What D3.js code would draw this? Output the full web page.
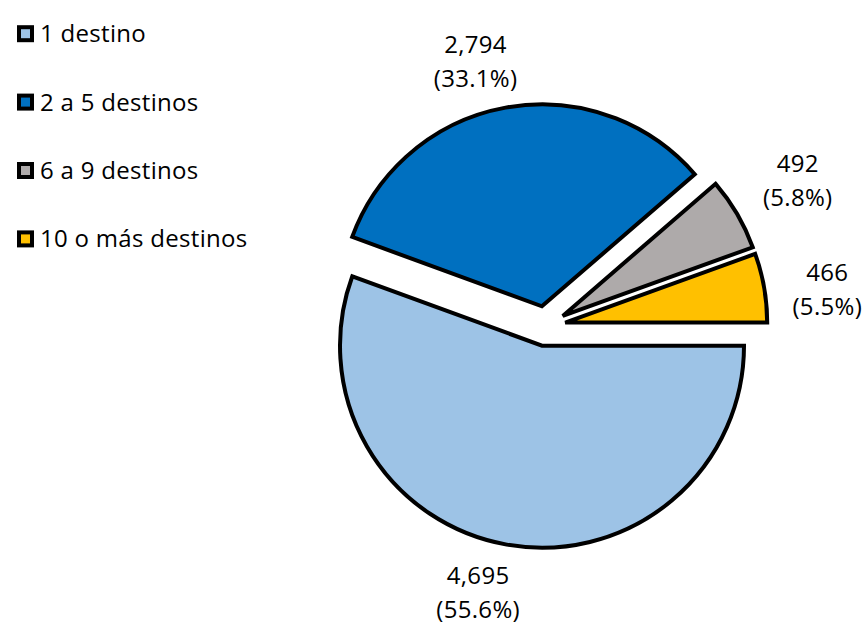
<!DOCTYPE html>
<html>
<head>
<meta charset="utf-8">
<script src="https://cdn.jsdelivr.net/npm/d3@7"></script>
<style>
  body { margin: 0; background: #fff; }
  text { font-family: "Open Sans", sans-serif; fill: #000; letter-spacing: 0.3px; }
</style>
</head>
<body>
<div id="chart"></div>
<script>
// data
const categories = ["1 destino", "2 a 5 destinos", "6 a 9 destinos", "10 o más destinos"];
const values = [4695, 2794, 492, 466];
const percents = ["55.6%", "33.1%", "5.8%", "5.5%"];
const colors = ["#9DC3E6", "#0070C0", "#AEAAAA", "#FFC000"];

// label nudges (px) after placing on the label radius
const labelNudge = [[-18, -12], [-19, 14], [8, -2], [3, 13]];

const width = 863, height = 625;
const cx = 545.5, cy = 326, radius = 202, explode = 20, labelRadius = 283;

let svg = d3.select("#chart").append("svg")
    .attr("width", width).attr("height", height);

let pie = d3.pie().sort(null)
    .startAngle(Math.PI / 2)
    .endAngle(Math.PI / 2 + 2 * Math.PI);
let arcs = pie(values);

let arc = d3.arc().innerRadius(0).outerRadius(radius);

let g = svg.append("g").attr("transform", `translate(${cx},${cy})`);

// slices, each pulled out along its bisector
g.selectAll("path.slice")
    .data(arcs)
    .join("path")
    .attr("class", "slice")
    .attr("transform", d => {
        let mid = (d.startAngle + d.endAngle) / 2;
        return `translate(${Math.sin(mid) * explode},${-Math.cos(mid) * explode})`;
    })
    .attr("d", arc)
    .attr("fill", (d, i) => colors[i])
    .attr("stroke", "#000")
    .attr("stroke-width", 4)
    .attr("stroke-linejoin", "miter");

// data labels
let fmt = d3.format(",");
arcs.forEach((d, i) => {
    let mid = (d.startAngle + d.endAngle) / 2;
    let x = Math.sin(mid) * labelRadius + labelNudge[i][0];
    let y = -Math.cos(mid) * labelRadius + labelNudge[i][1];
    let t = g.append("text")
        .attr("text-anchor", "middle")
        .style("font-size", "24px");
    t.append("tspan").attr("x", x).attr("y", y - 9).text(fmt(values[i]));
    t.append("tspan").attr("x", x).attr("y", y + 25).text("(" + percents[i] + ")");
});

// legend
let legend = svg.append("g");
categories.forEach((c, i) => {
    let y = 33.7 + i * 68.4;
    legend.append("rect")
        .attr("x", 19).attr("y", y - 6.5)
        .attr("width", 13).attr("height", 13)
        .attr("fill", colors[i])
        .attr("stroke", "#000")
        .attr("stroke-width", 4);
    legend.append("text")
        .attr("x", 40).attr("y", y + 8.5)
        .style("font-size", "24px")
        .text(c);
});
</script>
</body>
</html>
